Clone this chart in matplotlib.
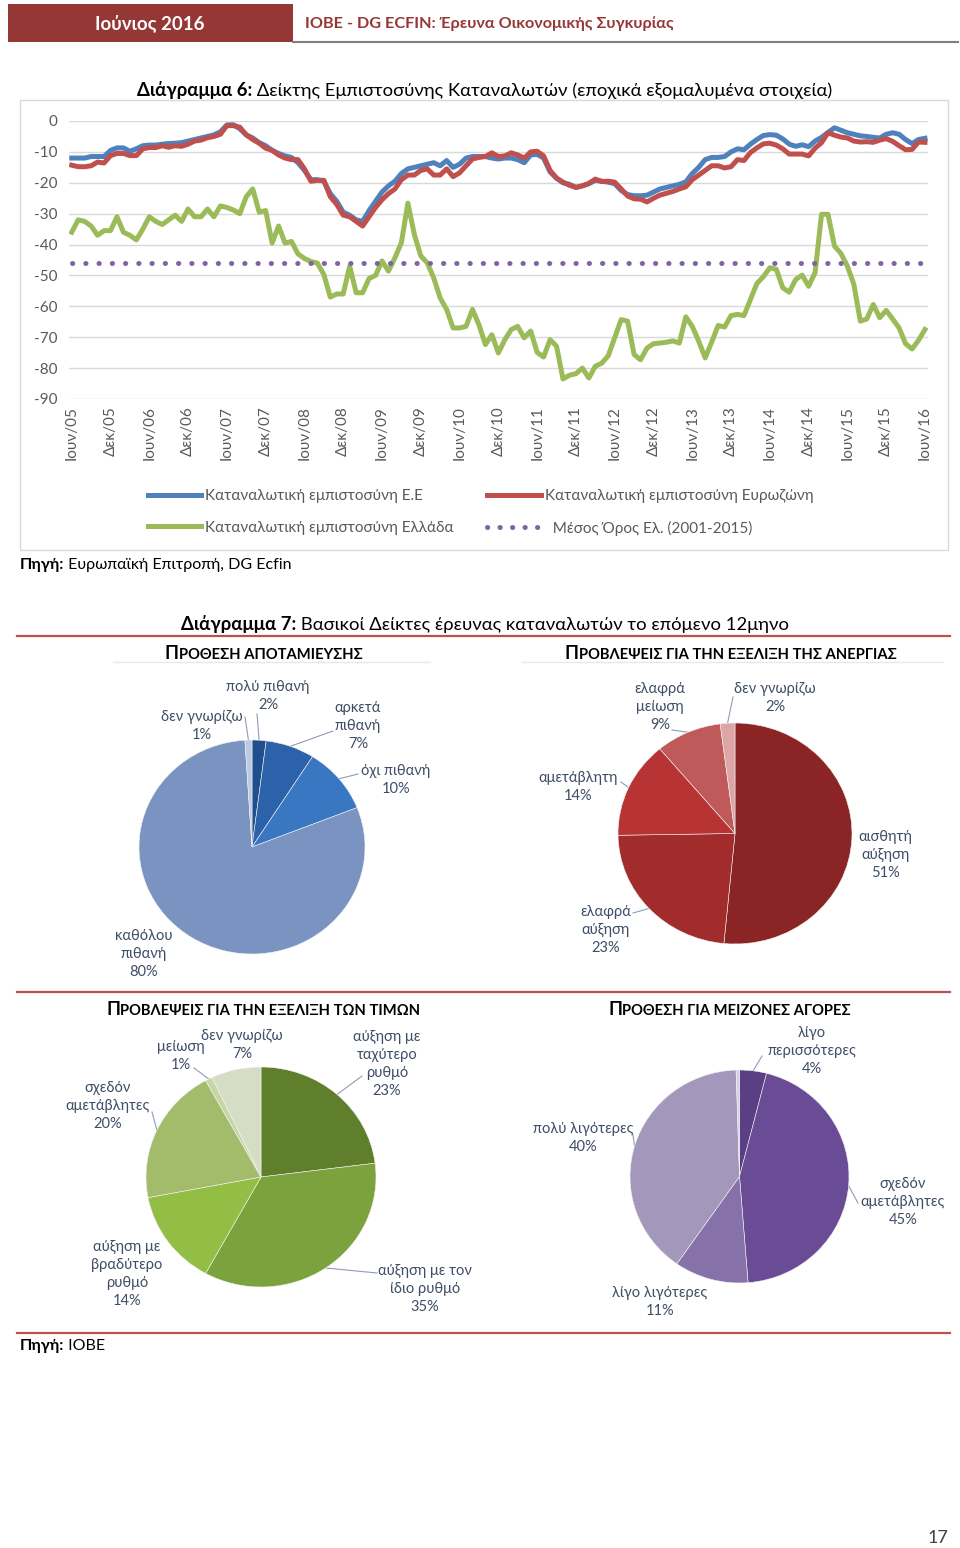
import numpy as np
import matplotlib.pyplot as plt
from matplotlib.patches import Rectangle
from matplotlib.lines import Line2D

plt.rcParams['font.family'] = ['Lato', 'DejaVu Sans']
plt.rcParams['axes.unicode_minus'] = False

W, H = 960, 1548

# ---- Diagram 6: consumer confidence, monthly Jun 2005 - Jun 2016
tick_labels = ['Ιουν/05', 'Δεκ/05', 'Ιουν/06', 'Δεκ/06', 'Ιουν/07', 'Δεκ/07', 'Ιουν/08', 'Δεκ/08',
               'Ιουν/09', 'Δεκ/09', 'Ιουν/10', 'Δεκ/10', 'Ιουν/11', 'Δεκ/11', 'Ιουν/12', 'Δεκ/12',
               'Ιουν/13', 'Δεκ/13', 'Ιουν/14', 'Δεκ/14', 'Ιουν/15', 'Δεκ/15', 'Ιουν/16']

eu_conf = [-12, -12, -12, -11.5, -11.5, -11.5, -9.5, -8.7, -8.7, -9.8,
           -9, -8, -7.8, -7.8, -7.5, -7.3, -7.2, -7, -6.5, -6,
           -5.5, -5, -4.5, -3.5, -1.3, -1.2, -2.5, -4.5, -5.5, -7,
           -8, -9.5, -10.5, -11.3, -11.8, -13.5, -16, -19, -19, -19.5,
           -23.5, -26, -29.5, -30.5, -32, -32.5, -29, -26, -23, -21,
           -19.5, -17, -15.5, -15, -14.5, -14, -13.5, -14.5, -12.8, -15,
           -14, -12, -11.5, -11.5, -11.5, -12, -12.3, -12, -12, -12.5,
           -13.5, -11, -10.8, -12, -16.5, -18.5, -20, -20.5, -21.5, -21,
           -20.3, -19.2, -19.5, -19.8, -20.3, -22.5, -23.8, -24.2, -24.2, -24,
           -23, -22, -21.5, -21, -20.5, -19.7, -17, -15, -12.5, -11.8,
           -11.8, -11.5, -10, -9, -9.3, -7.5, -6, -4.7, -4.4, -4.6,
           -5.8, -7.5, -8.2, -7.7, -8.3, -6.5, -5.3, -3.7, -2.2, -3,
           -3.8, -4.3, -4.8, -5, -5.3, -5.5, -4.3, -3.8, -4.3, -6,
           -7.3, -6, -5.6]

ea_conf = [-14.3, -14.8, -14.8, -14.5, -13.3, -13.6, -11.2, -10.5, -10.5, -11.2,
           -11.2, -9, -8.6, -8.6, -8, -8.5, -8, -8.2, -7.5, -6.5,
           -6.2, -5.4, -5, -4.3, -1.5, -1.5, -2, -4.5, -6, -7.2,
           -8.8, -9.5, -11, -12, -12.5, -12.5, -15.5, -19.5, -19.2, -19.2,
           -24.5, -27, -30.5, -31, -32.5, -34, -31, -28, -25.5, -23.5,
           -22, -19, -17.5, -17.5, -16, -15.5, -17.5, -17.5, -15.5, -18,
           -16.8, -14.5, -12.3, -11.8, -11.5, -10.3, -11.5, -11.3, -10.3, -11,
           -12, -10, -9.8, -11.3, -16, -18.5, -19.8, -20.8, -21.5, -21,
           -20.2, -18.8, -19.6, -19.5, -19.8, -22, -24.3, -25.2, -25.3, -26.2,
           -25, -24, -23.4, -22.8, -22, -21.3, -19, -17.5, -16, -14.5,
           -14.5, -15.2, -14.8, -12.5, -12.8, -10.2, -8.7, -7.4, -7.2, -7.8,
           -9, -10.7, -10.7, -10.7, -11.3, -8.8, -7, -3.8, -4.6, -5.2,
           -5.5, -6.5, -6.8, -6.7, -6.9, -6.2, -5.7, -6.6, -8, -9.3,
           -9.2, -6.8, -6.9]

gr_conf = [-36, -32, -32.5, -34, -37, -35.5, -35.5, -31, -36, -37,
           -38.5, -35, -31, -32.5, -33.5, -32, -30.5, -32.5, -28.5, -31,
           -31, -28.5, -31, -27.5, -28, -28.8, -30, -24.5, -22, -29.5,
           -29, -39.5, -34, -39.5, -39, -43, -44.5, -45.5, -46, -49.7,
           -57, -56, -56, -47, -55.6, -55.6, -51, -50, -45.3, -48.6,
           -44.3, -39.4, -26.6, -36.7, -43.7, -45.9, -50.8, -57.3, -61, -67,
           -67, -66.5, -61, -66, -72.4, -69.2, -75.1, -70.8, -67.5, -66.5,
           -70.2, -68, -74.9, -76.4, -70.8, -72.9, -83.5, -82.3, -81.8, -80,
           -83.2, -79.4, -78.4, -76, -70.2, -64.3, -64.8, -75.6, -77.3, -73.5,
           -72.1, -71.9, -71.6, -71.2, -71.9, -63.4, -66.5, -71.3, -76.7, -71.6,
           -66.2, -66.7, -63, -62.6, -63, -57.8, -52.6, -50.4, -47.5, -48,
           -54, -55.4, -51.3, -49.9, -53.5, -49.1, -30.2, -30.2, -40.5, -42.9,
           -47, -52.9, -64.8, -64.1, -59.4, -63.7, -61.3, -64.1, -67, -72.1,
           -73.8, -71, -67.5]

gr_mean = -46.0

series_names = ['Καταναλωτική εμπιστοσύνη Ε.Ε', 'Καταναλωτική εμπιστοσύνη Ευρωζώνη',
                'Καταναλωτική εμπιστοσύνη Ελλάδα', 'Μέσος Όρος Ελ. (2001-2015)']

# ---- Diagram 7: pies (clockwise from 12 o'clock)
sav_labels = ['πολύ πιθανή', 'αρκετά\nπιθανή', 'όχι πιθανή', 'καθόλου\nπιθανή', 'δεν γνωρίζω']
sav_values = [2, 7, 10, 80, 1]

unemp_labels = ['αισθητή\nαύξηση', 'ελαφρά\nαύξηση', 'αμετάβλητη', 'ελαφρά\nμείωση', 'δεν γνωρίζω']
unemp_values = [51, 23, 14, 9, 2]

price_labels = ['αύξηση με\nταχύτερο\nρυθμό', 'αύξηση με τον\nίδιο ρυθμό', 'αύξηση με\nβραδύτερο\nρυθμό',
                'σχεδόν\nαμετάβλητες', 'μείωση', 'δεν γνωρίζω']
price_values = [23, 35, 14, 20, 1, 7]

purch_labels = ['λίγο\nπερισσότερες', 'σχεδόν\nαμετάβλητες', 'λίγο λιγότερες', 'πολύ λιγότερες', None]
purch_values = [4, 45, 11, 40, 0.5]

# colours
sav_colors = ['#1F4F8F', '#2C62A9', '#3A77C2', '#7B93C0', '#BCCBE4']
unemp_colors = ['#8B2424', '#A22B2B', '#B83434', '#C05A5A', '#DDA5A5']
price_colors = ['#5F7F2C', '#7BA23C', '#93BE45', '#A2BC6C', '#C6D6A4', '#D5DEC4']
purch_colors = ['#5A3F84', '#6A4B96', '#8671A8', '#A397BC', '#D6D0E2']
label_col = '#3E4E66'
lead_col = '#8E9DB3'

fig = plt.figure(figsize=(W / 100, H / 100), dpi=100)
cv = fig.add_axes([0, 0, 1, 1])   # page canvas in pixel units
cv.set_xlim(0, W)
cv.set_ylim(H, 0)
cv.axis('off')


def two_part(x, y, a, b, sa, sb, wa='bold', wb='normal', color='black'):
    t1 = cv.text(x, y, a, fontsize=sa, fontweight=wa, color=color, ha='left', va='baseline')
    cv.annotate(b, xy=(1, 0), xycoords=t1, xytext=(0, 0), textcoords='offset points',
                fontsize=sb, fontweight=wb, color=color, ha='left', va='bottom')


'''header'''
cv.add_patch(Rectangle((8, 4), 285, 38, fc='#953735', ec='none'))
cv.plot([293, 958], [42, 42], color='#7F7F7F', lw=1.5)
cv.text(150, 23, 'Ιούνιος 2016', color='white', fontsize=13.5, fontweight='bold', ha='center', va='center')
cv.text(305, 24, 'IOBE - DG ECFIN: Έρευνα Οικονομικής Συγκυρίας', color='#953735',
        fontsize=11.7, fontweight='bold', ha='left', va='center')

'''Diagram 6'''
two_part(137, 96, 'Διάγραμμα 6:', ' Δείκτης Εμπιστοσύνης Καταναλωτών (εποχικά εξομαλυμένα στοιχεία)', 13.3, 13.3)
cv.add_patch(Rectangle((20, 100), 928, 450, fill=False, ec='#D9D9D9', lw=1))

x0, x1, ytop, ybot = 68.5, 928.2, 121, 399
ax = fig.add_axes([x0 / W, 1 - ybot / H, (x1 - x0) / W, (ybot - ytop) / H])
ax.patch.set_alpha(0)
months = np.arange(len(eu_conf))
l_eu, = ax.plot(months, eu_conf, color='#4F81BD', lw=3.6, solid_joinstyle='round')
l_ea, = ax.plot(months, ea_conf, color='#C0504D', lw=3.6, solid_joinstyle='round')
l_gr, = ax.plot(months, gr_conf, color='#9BBB59', lw=3.6, solid_joinstyle='round')
l_mn, = ax.plot(months, [gr_mean] * len(months), color='#8064A2', lw=3.6,
                linestyle=(0, (0.05, 2.6)), dash_capstyle='round')
ax.set_xlim(-0.5, len(months) - 0.5)
ax.set_ylim(-90, 0)
ax.set_yticks(np.arange(0, -91, -10))
ax.set_yticklabels([str(v) for v in np.arange(0, -91, -10)])
ax.set_xticks(np.arange(0, len(months), 6))
ax.set_xticklabels(tick_labels, rotation=90)
ax.tick_params(axis='y', length=0, pad=8, labelsize=11, labelcolor='#595959')
ax.tick_params(axis='x', length=0, pad=5, labelsize=11, labelcolor='#595959')
ax.grid(axis='y', color='#D9D9D9', lw=1)
ax.set_axisbelow(True)
for s in ax.spines.values():
    s.set_visible(False)

# legend: proxy for the dotted mean line so that five dots show, as in Excel
mn_proxy = Line2D([], [], color='#8064A2', lw=3.6, linestyle=(0, (0.05, 2.45)), dash_capstyle='round')
leg = fig.legend([l_eu, l_gr, l_ea, mn_proxy],
                 [series_names[0], series_names[2], series_names[1], '  ' + series_names[3]],
                 ncol=2, loc='upper left', bbox_to_anchor=(148 / W, 1 - 489 / H), frameon=False,
                 fontsize=11, handlelength=3.5, handletextpad=0.25, columnspacing=2.2, labelspacing=1.15,
                 borderpad=0, borderaxespad=0)
for t in leg.get_texts():
    t.set_color('#595959')

two_part(20, 569, 'Πηγή:', ' Ευρωπαϊκή Επιτροπή, DG Ecfin', 11.5, 11.5)

'''Diagram 7'''
two_part(181, 630, 'Διάγραμμα 7:', ' Βασικοί Δείκτες έρευνας καταναλωτών το επόμενο 12μηνο', 13.3, 13.3)
for yy in (636, 992, 1333):
    cv.plot([17, 950], [yy, yy], color='#C0504D', lw=1.6)
cv.plot([113, 430], [662, 662], color='#E8E8E8', lw=1)
cv.plot([522, 943], [662, 662], color='#E8E8E8', lw=1)

two_part(165, 659, 'Π', 'ΡΟΘΕΣΗ ΑΠΟΤΑΜΙΕΥΣΗΣ', 13, 10.6, 'bold', 'bold')
two_part(565, 659, 'Π', 'ΡΟΒΛΕΨΕΙΣ ΓΙΑ ΤΗΝ ΕΞΕΛΙΞΗ ΤΗΣ ΑΝΕΡΓΙΑΣ', 13, 10.6, 'bold', 'bold')
two_part(106, 1015, 'Π', 'ΡΟΒΛΕΨΕΙΣ ΓΙΑ ΤΗΝ ΕΞΕΛΙΞΗ ΤΩΝ ΤΙΜΩΝ', 13, 10.6, 'bold', 'bold')
two_part(608, 1015, 'Π', 'ΡΟΘΕΣΗ ΓΙΑ ΜΕΙΖΟΝΕΣ ΑΓΟΡΕΣ', 13, 10.6, 'bold', 'bold')


def draw_pie(box, values, colors, labels, text_pos, lead_start):
    bx0, bx1, by0, by1 = box
    pa = fig.add_axes([bx0 / W, 1 - by1 / H, (bx1 - bx0) / W, (by1 - by0) / H])
    pa.pie(values, colors=colors, startangle=90, counterclock=False, radius=1, frame=True,
           wedgeprops=dict(edgecolor='#F2F2F2', linewidth=0.4))
    pa.set_aspect('auto')
    pa.set_xlim(-1, 1)
    pa.set_ylim(-1, 1)
    pa.axis('off')
    cx, cy = (bx0 + bx1) / 2, (by0 + by1) / 2
    rx, ry = (bx1 - bx0) / 2, (by1 - by0) / 2
    total = float(sum(values))
    cum = 0.0
    for v, lab, tp, ls in zip(values, labels, text_pos, lead_start):
        mid = np.deg2rad(90 - 360 * (cum + v / 2) / total)
        cum += v
        if lab is None:
            continue
        cv.text(tp[0], tp[1], '%s\n%g%%' % (lab, v), ha='center', va='center', fontsize=10.5,
                color=label_col, linespacing=1.38)
        if ls is not None:
            ex, ey = cx + rx * np.cos(mid), cy - ry * np.sin(mid)
            cv.plot([ls[0], ex], [ls[1], ey], color=lead_col, lw=0.8)


draw_pie((139, 365, 740, 954), sav_values, sav_colors, sav_labels,
         [(268, 696), (358, 726), (396, 780), (144, 954), (202, 726)],
         [(257, 714), (333, 731), (358, 774), None, (245, 717)])
draw_pie((618, 852, 723, 944), unemp_values, unemp_colors, unemp_labels,
         [(885, 855), (606, 930), (578, 787), (660, 707), (775, 698)],
         [None, (633, 913), (621, 782), (672, 730), (733, 697)])
draw_pie((146, 376, 1067, 1287), price_values, price_colors, price_labels,
         [(387, 1064), (425, 1289), (127, 1274), (108, 1106), (181, 1056), (242, 1045)],
         [(362, 1076), (377, 1273), None, (152, 1112), (194, 1068), None])
draw_pie((630, 849, 1070, 1283), purch_values, purch_colors, purch_labels,
         [(812, 1051), (903, 1202), (660, 1302), (583, 1138), None],
         [(762, 1056), (858, 1203), None, (633, 1135), None])

two_part(20, 1350, 'Πηγή:', ' ΙΟΒΕ', 11.5, 11.5)
cv.text(938, 1538, '17', fontsize=13, color='#404040', ha='center', va='center')

fig.savefig('out.png', dpi=100)
